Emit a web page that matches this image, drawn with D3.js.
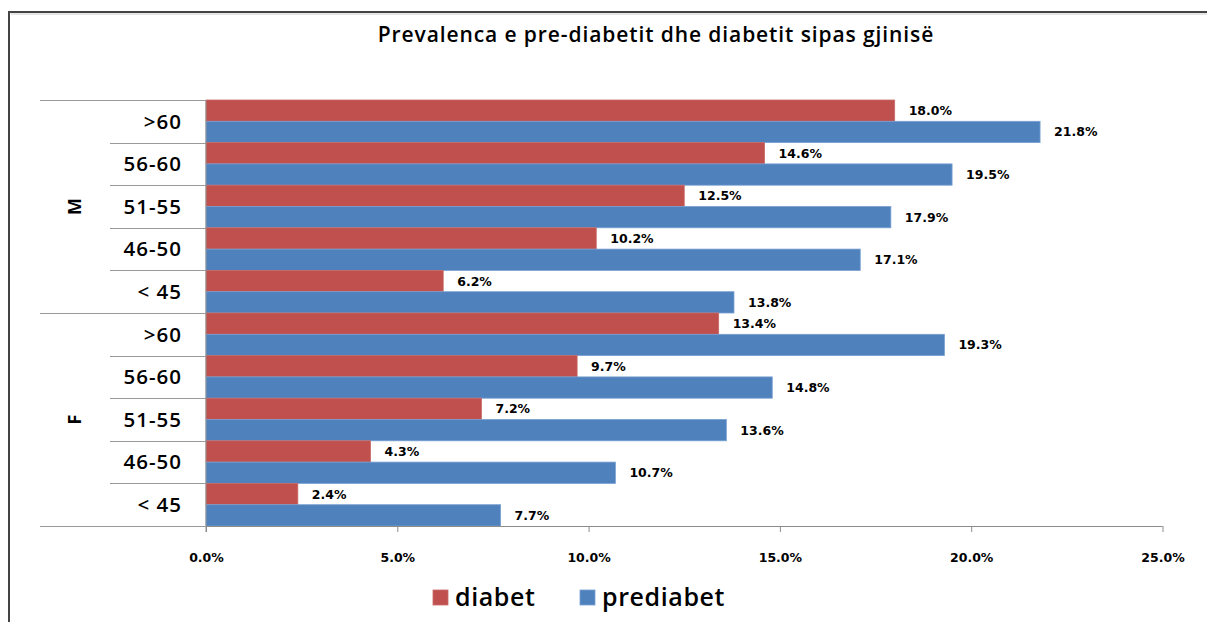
<!DOCTYPE html>
<html>
<head>
<meta charset="utf-8">
<script src="https://cdn.jsdelivr.net/npm/d3@7/dist/d3.min.js"></script>
<style>
  html, body { margin: 0; padding: 0; background: #fff; overflow: hidden; }
  svg { display: block; }
  text { font-family: "Open Sans", Lato, "DejaVu Sans", sans-serif; fill: #000; }
  .num { font-family: "DejaVu Sans", Verdana, sans-serif; }
</style>
</head>
<body>
<svg id="chart" width="1207" height="622"></svg>
<script>
// Age groups within each gender, top to bottom
const genders = ["M", "F"];
const ageGroups = [">60", "56-60", "51-55", "46-50", "< 45"];
// Prevalence in percent, in the order of ageGroups
const diabetM = [18.0, 14.6, 12.5, 10.2, 6.2];
const prediabetM = [21.8, 19.5, 17.9, 17.1, 13.8];
const diabetF = [13.4, 9.7, 7.2, 4.3, 2.4];
const prediabetF = [19.3, 14.8, 13.6, 10.7, 7.7];
const seriesNames = ["diabet", "prediabet"];
const xTicks = [0, 5, 10, 15, 20, 25];

const colors = { diabet: "#C0504D", prediabet: "#4F81BD" };
const strokes = { diabet: "#c86a67", prediabet: "#79a0d2" };

const values = {
  M: { diabet: diabetM, prediabet: prediabetM },
  F: { diabet: diabetF, prediabet: prediabetF }
};

const rows = [];
genders.forEach(g => ageGroups.forEach((a, i) => {
  rows.push({ key: g + "|" + a, gender: g, age: a,
    diabet: values[g].diabet[i], prediabet: values[g].prediabet[i] });
}));

const svg = d3.select("#chart");

// outer frame
svg.append("rect").attr("x", 9).attr("y", 12).attr("width", 1230).attr("height", 640)
  .attr("fill", "none").attr("stroke", "#444").attr("stroke-width", 2);
svg.append("line").attr("x1", 11).attr("x2", 1207).attr("y1", 14).attr("y2", 14)
  .attr("stroke", "#ccc").attr("stroke-width", 1);

const plotLeft = 206, plotRight = 1162.5, plotTop = 100, plotBottom = 526;

const x = d3.scaleLinear().domain([0, 25]).range([plotLeft, plotRight]);
const y = d3.scaleBand().domain(rows.map(r => r.key)).range([plotTop, plotBottom]).padding(0);
const ySub = d3.scaleBand().domain(seriesNames).range([0, y.bandwidth()]).padding(0);

// title
svg.append("text").attr("x", 656).attr("y", 42).attr("text-anchor", "middle")
  .attr("font-size", 21).attr("font-weight", 600).attr("letter-spacing", 0.9)
  .text("Prevalenca e pre-diabetit dhe diabetit sipas gjinisë");

// bars
const g = svg.append("g");
rows.forEach(r => {
  seriesNames.forEach(s => {
    g.append("rect")
      .attr("x", x(0))
      .attr("y", y(r.key) + ySub(s))
      .attr("width", x(r[s]) - x(0))
      .attr("height", ySub.bandwidth())
      .attr("fill", colors[s])
      .attr("stroke", strokes[s]).attr("stroke-width", 0.8);
    g.append("text").attr("class", "num")
      .attr("x", x(r[s]) + 14)
      .attr("y", y(r.key) + ySub(s) + ySub.bandwidth() / 2)
      .attr("dy", "0.36em")
      .attr("font-size", 12.5).attr("font-weight", 700).attr("fill", "#222")
      .text(r[s].toFixed(1) + "%");
  });
});

// x axis
const xAxis = d3.axisBottom(x).tickValues(xTicks).tickSize(6)
  .tickFormat(d => d.toFixed(1) + "%");
const xg = svg.append("g").attr("transform", `translate(0,${plotBottom})`).call(xAxis);
xg.select(".domain").attr("stroke", "#8c8c8c").attr("d", `M${plotLeft},0.5H${plotRight}`);
xg.selectAll(".tick line").attr("stroke", "#8c8c8c");
xg.selectAll(".tick text").attr("class", "num").attr("y", 27).attr("font-size", 12.5)
  .attr("font-weight", 700).attr("fill", "#222")
  .style("font-family", "'DejaVu Sans', Verdana, sans-serif");

// vertical category axis line
svg.append("line").attr("x1", plotLeft).attr("x2", plotLeft).attr("y1", plotTop).attr("y2", plotBottom + 6)
  .attr("stroke", "#8c8c8c");

// age labels and separators
rows.forEach(r => {
  svg.append("text").attr("x", 182).attr("y", y(r.key) + y.bandwidth() / 2)
    .attr("dy", "0.36em").attr("text-anchor", "end")
    .attr("font-size", 20.5).attr("font-weight", 600).attr("fill", "#111")
    .attr("letter-spacing", 1)
    .text(r.age);
});
const bounds = y.domain().map(k => y(k)).concat([plotBottom]);
bounds.forEach((b, i) => {
  const groupEdge = i % ageGroups.length === 0;
  svg.append("line")
    .attr("x1", groupEdge ? 40 : 110).attr("x2", plotLeft)
    .attr("y1", Math.round(b) + 0.5).attr("y2", Math.round(b) + 0.5)
    .attr("stroke", "#9a9a9a");
});

// gender labels, rotated
genders.forEach(gname => {
  const first = y(gname + "|" + ageGroups[0]);
  const last = y(gname + "|" + ageGroups[ageGroups.length - 1]) + y.bandwidth();
  const cy = (first + last) / 2;
  svg.append("text")
    .attr("transform", `translate(75,${cy}) rotate(-90)`)
    .attr("text-anchor", "middle").attr("dy", "0.36em")
    .attr("font-size", 18).attr("font-weight", 700)
    .text(gname);
});

// legend
const legendItems = [
  { name: "diabet", x: 433 },
  { name: "prediabet", x: 580 }
];
legendItems.forEach(it => {
  svg.append("rect").attr("x", it.x).attr("y", 590).attr("width", 15).attr("height", 15)
    .attr("fill", colors[it.name]).attr("stroke", strokes[it.name]).attr("stroke-width", 0.8);
  svg.append("text").attr("x", it.x + 22).attr("y", 597).attr("dy", "0.36em")
    .attr("font-size", 25).attr("font-weight", 600).attr("letter-spacing", 0.6).text(it.name);
});
</script>
</body>
</html>
